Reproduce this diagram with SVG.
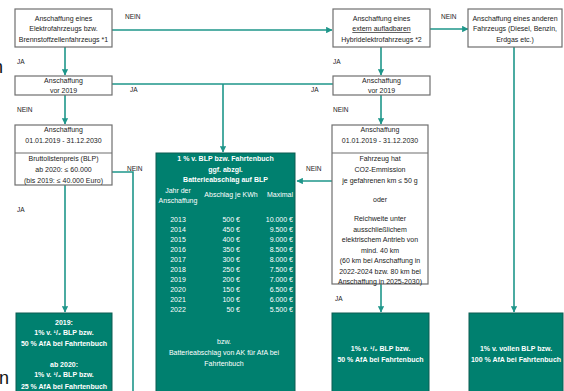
<svg xmlns="http://www.w3.org/2000/svg" width="564" height="391" viewBox="0 0 564 391">
<style>
text{font-family:"Liberation Sans",Arial,sans-serif;font-size:7px;fill:#222}
.c{text-anchor:middle}
.r{text-anchor:end}
.box{fill:#fff;stroke:#6f6f6f;stroke-width:1.2}
.g{fill:#00806f;stroke:#0d5c52;stroke-width:1}
.w{fill:#fff}
.b{font-weight:bold}
.ln{fill:none;stroke:#1e968a;stroke-width:1.6}
.lbl{font-size:6.5px}
.big{font-size:18px;fill:#111}
</style>
<defs>
<marker id="ah" viewBox="0 0 6 6" refX="5.5" refY="3" markerWidth="4" markerHeight="4" orient="auto">
<path d="M0,0 L6,3 L0,6 z" fill="#1e968a"/>
</marker>
</defs>

<text class="big" x="-7" y="73">n</text>
<text class="big" x="-1" y="384">n</text>

<g id="connectors">
<path class="ln" d="M112,30 H332" marker-end="url(#ah)"/>
<path class="ln" d="M430,29 H468" marker-end="url(#ah)"/>
<path class="ln" d="M65,47 V75" marker-end="url(#ah)"/>
<path class="ln" d="M381,47 V75" marker-end="url(#ah)"/>
<path class="ln" d="M112,84 H333"/>
<path class="ln" d="M223,84 V152" marker-end="url(#ah)"/>
<path class="ln" d="M65,95 V124" marker-end="url(#ah)"/>
<path class="ln" d="M381,95 V124" marker-end="url(#ah)"/>
<path class="ln" d="M112,172 H133 V391"/>
<path class="ln" d="M65,185 V312" marker-end="url(#ah)"/>
<path class="ln" d="M332,181 H297" marker-end="url(#ah)"/>
<path class="ln" d="M381,284 V312" marker-end="url(#ah)"/>
<path class="ln" d="M514,47 V312" marker-end="url(#ah)"/>
<text class="lbl" x="125" y="19">NEIN</text>
<text class="lbl" x="441" y="19">NEIN</text>
<text class="lbl" x="17" y="64">JA</text>
<text class="lbl" x="333" y="64">JA</text>
<text class="lbl" x="130" y="92">JA</text>
<text class="lbl" x="311" y="92">JA</text>
<text class="lbl" x="17" y="112">NEIN</text>
<text class="lbl" x="333" y="112">NEIN</text>
<text class="lbl" x="127" y="171">NEIN</text>
<text class="lbl" x="306" y="171">NEIN</text>
<text class="lbl" x="17" y="212">JA</text>
<text class="lbl" x="335" y="301">JA</text>
</g>

<g id="n1">
<rect class="box" x="15" y="9" width="97" height="38"/>
<text class="c" x="63.5" y="21">Anschaffung eines</text>
<text class="c" x="63.5" y="31">Elektrofahrzeugs bzw.</text>
<text class="c" x="63.5" y="42">Brennstoffzellenfahrzeugs *1</text>
</g>

<g id="n2">
<rect class="box" x="333" y="9" width="97" height="38"/>
<text class="c" x="381.5" y="21">Anschaffung eines</text>
<text class="c" x="381.5" y="31" text-decoration="underline">extern aufladbaren</text>
<text class="c" x="381.5" y="42">Hybridelektrofahrzeugs *2</text>
</g>

<g id="n3">
<rect class="box" x="468" y="9" width="94" height="38"/>
<text class="c" x="515" y="21">Anschaffung eines anderen</text>
<text class="c" x="515" y="31">Fahrzeugs (Diesel, Benzin,</text>
<text class="c" x="515" y="42">Erdgas etc.)</text>
</g>

<g id="n4">
<rect class="box" x="15" y="76" width="97" height="19"/>
<text class="c" x="63.5" y="83">Anschaffung</text>
<text class="c" x="63.5" y="93">vor 2019</text>
</g>

<g id="n5">
<rect class="box" x="333" y="76" width="97" height="19"/>
<text class="c" x="381.5" y="83">Anschaffung</text>
<text class="c" x="381.5" y="93">vor 2019</text>
</g>

<g id="n6">
<rect class="box" x="15" y="125" width="97" height="60"/>
<line x1="15" y1="153" x2="112" y2="153" stroke="#6f6f6f" stroke-width="1.2"/>
<text class="c" x="63.5" y="132">Anschaffung</text>
<text class="c" x="63.5" y="143">01.01.2019 - 31.12.2030</text>
<text class="c" x="63.5" y="161">Bruttolistenpreis (BLP)</text>
<text class="c" x="63.5" y="172">ab 2020: ≤ 60.000</text>
<text class="c" x="63.5" y="183">(bis 2019: ≤ 40.000 Euro)</text>
</g>

<g id="n7">
<rect class="box" x="332" y="125" width="96" height="159"/>
<line x1="332" y1="153" x2="428" y2="153" stroke="#6f6f6f" stroke-width="1.2"/>
<text class="c" x="380" y="132">Anschaffung</text>
<text class="c" x="380" y="143">01.01.2019 - 31.12.2030</text>
<text class="c" x="380" y="161">Fahrzeug hat</text>
<text class="c" x="380" y="172">CO2-Emmission</text>
<text class="c" x="380" y="183">je gefahrenen km ≤ 50 g</text>
<text class="c" x="380" y="202">oder</text>
<text class="c" x="380" y="221">Reichweite unter</text>
<text class="c" x="380" y="231.5">ausschließlichem</text>
<text class="c" x="380" y="242">elektrischem Antrieb von</text>
<text class="c" x="380" y="252.5">mind. 40 km</text>
<text class="c" x="380" y="263">(60 km bei Anschaffung in</text>
<text class="c" x="380" y="273.5">2022-2024 bzw. 80 km bei</text>
<text class="c" x="380" y="284">Anschaffung in 2025-2030)</text>
</g>

<g id="n8">
<rect class="g" x="156" y="153" width="139" height="245"/>
<text class="c w b" x="225.5" y="161" font-size="6.6">1 % v. BLP bzw. Fahrtenbuch</text>
<text class="c w b" x="225.5" y="171.5" font-size="6.6">ggf. abzgl.</text>
<text class="c w b" x="225.5" y="182" font-size="6.6">Batterieabschlag auf BLP</text>
<text class="c w" x="178" y="193">Jahr der</text>
<text class="c w" x="178" y="202.5">Anschaffung</text>
<text class="c w" x="231" y="197">Abschlag je KWh</text>
<text class="c w" x="280" y="197">Maximal</text>
<g class="w">
<text class="c w" x="178" y="221.5">2013</text><text class="r w" x="240" y="221.5">500 €</text><text class="r w" x="293" y="221.5">10.000 €</text>
<text class="c w" x="178" y="231.5">2014</text><text class="r w" x="240" y="231.5">450 €</text><text class="r w" x="293" y="231.5">9.500 €</text>
<text class="c w" x="178" y="241.5">2015</text><text class="r w" x="240" y="241.5">400 €</text><text class="r w" x="293" y="241.5">9.000 €</text>
<text class="c w" x="178" y="251.5">2016</text><text class="r w" x="240" y="251.5">350 €</text><text class="r w" x="293" y="251.5">8.500 €</text>
<text class="c w" x="178" y="261.5">2017</text><text class="r w" x="240" y="261.5">300 €</text><text class="r w" x="293" y="261.5">8.000 €</text>
<text class="c w" x="178" y="271.5">2018</text><text class="r w" x="240" y="271.5">250 €</text><text class="r w" x="293" y="271.5">7.500 €</text>
<text class="c w" x="178" y="281.5">2019</text><text class="r w" x="240" y="281.5">200 €</text><text class="r w" x="293" y="281.5">7.000 €</text>
<text class="c w" x="178" y="291.5">2020</text><text class="r w" x="240" y="291.5">150 €</text><text class="r w" x="293" y="291.5">6.500 €</text>
<text class="c w" x="178" y="301.5">2021</text><text class="r w" x="240" y="301.5">100 €</text><text class="r w" x="293" y="301.5">6.000 €</text>
<text class="c w" x="178" y="311.5">2022</text><text class="r w" x="240" y="311.5">50 €</text><text class="r w" x="293" y="311.5">5.500 €</text>
</g>
<text class="c w" x="224" y="344">bzw.</text>
<text class="c w" x="224" y="355">Batterieabschlag von AK für AfA bei</text>
<text class="c w" x="224" y="366">Fahrtenbuch</text>
</g>

<g id="n9">
<rect class="g" x="16" y="313" width="96" height="85"/>
<text class="c w b" x="64" y="325" font-size="6.6">2019:</text>
<text class="c w b" x="64" y="335" font-size="6.6">1% v. ¹/₂ BLP bzw.</text>
<text class="c w b" x="64" y="346" font-size="6.6">50 % AfA bei Fahrtenbuch</text>
<text class="c w b" x="64" y="367" font-size="6.6">ab 2020:</text>
<text class="c w b" x="64" y="377" font-size="6.6">1% v. ¹/₄ BLP  bzw.</text>
<text class="c w b" x="64" y="389" font-size="6.6">25 % AfA bei Fahrtenbuch</text>
</g>

<g id="n10">
<rect class="g" x="332" y="313" width="97" height="85"/>
<text class="c w b" x="380.5" y="351" font-size="6.6">1% v. ¹/₂ BLP bzw.</text>
<text class="c w b" x="380.5" y="362" font-size="6.6">50 % AfA bei Fahrtenbuch</text>
</g>

<g id="n11">
<rect class="g" x="469" y="313" width="94" height="85"/>
<text class="c w b" x="516" y="351" font-size="6.6">1% v. vollen  BLP bzw.</text>
<text class="c w b" x="516" y="362" font-size="6.6">100 % AfA bei Fahrtenbuch</text>
</g>
</svg>
